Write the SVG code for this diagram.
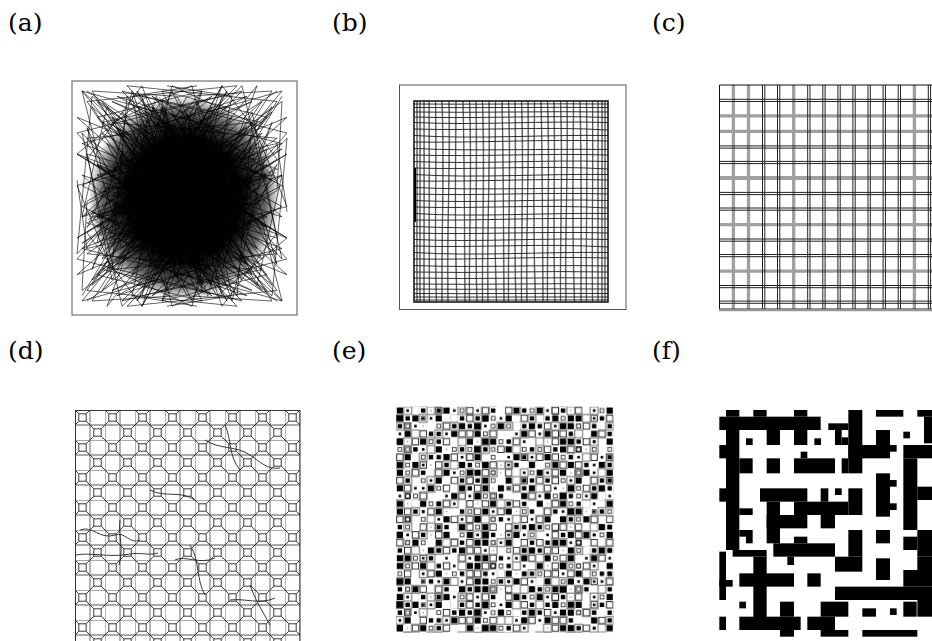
<svg xmlns="http://www.w3.org/2000/svg" xmlns:xlink="http://www.w3.org/1999/xlink" width="932" height="641" viewBox="0 0 932 641">
<style>
.lbl{font-family:"DejaVu Serif","Liberation Serif",serif;font-size:25px;fill:#000}
.frame{fill:none;stroke:#555;stroke-width:1}
.vg{fill:none;stroke:#8c8c8c;stroke-width:1.4}
.vb{fill:none;stroke:#444;stroke-width:0.7}
.hb{fill:none;stroke:#1a1a1a;stroke-width:0.9}
.cb{stroke:#222;stroke-width:1}
.cg{stroke:#a0a0a0;stroke-width:3.3}
</style>
<defs>
<radialGradient id="blob" cx="0.5" cy="0.5" r="0.5">
<stop offset="0" stop-color="#000" stop-opacity="1"/>
<stop offset="0.6" stop-color="#000" stop-opacity="0.97"/>
<stop offset="0.85" stop-color="#000" stop-opacity="0.6"/>
<stop offset="1" stop-color="#000" stop-opacity="0"/>
</radialGradient>
<polyline id="tg" points="-95,-100 30,-20 -60,40 90,-85 -10,60 70,90 -100,10 40,-60 -30,-95 100,20 -50,-30 20,100 -85,75 60,-40 -20,20 95,-55 -70,-70 10,-105 50,50 -105,-40 80,70 -40,95 0,-50 -90,-15 65,-95 -15,-70 105,60 -60,100 35,10 -80,-90 45,85 -100,50 85,-20 -25,-45 15,70 75,-70 -55,-5 55,105 -95,90 25,-80 100,-100 -35,55 70,30 -75,-50 5,95 90,100 -45,-100 30,40 -105,-75 60,-10 -5,-25 -65,65 95,-35 40,-105 -30,85 80,-60 -85,30 20,-40 50,95 -15,105"/>
<rect id="eA" x="-3.1" y="-3.1" width="6.2" height="6.2" fill="#000"/>
<rect id="eB" x="-2.2" y="-2.2" width="4.4" height="4.4" fill="#000"/>
<rect id="eC" x="-1.3" y="-1.3" width="2.6" height="2.6" fill="#000"/>
<rect id="eD" x="-3.2" y="-3.2" width="6.4" height="6.4" fill="#fff" stroke="#222" stroke-width="1"/>
<rect id="eF" x="-1.9" y="-1.9" width="3.8" height="3.8" fill="#fff" stroke="#333" stroke-width="0.9"/>
<rect id="eG" x="-0.7" y="-0.7" width="1.4" height="1.4" fill="#999"/>
<rect id="eW" x="-3.9" y="-3.9" width="7.8" height="7.8" fill="#fff"/>
<rect id="eE" x="-3.9" y="-3.9" width="7.8" height="7.8" fill="none" stroke="#8a8a8a" stroke-width="1.3"/>
<pattern id="pd" patternUnits="userSpaceOnUse" x="75" y="410" width="30" height="30">
<path d="M0 0V30M15 0V30M0 0H30M0 15H30" stroke="#8e8e8e" stroke-width="1.3" fill="none"/>
<path d="M3.8 3.8h7.4v7.4h-7.4zM18.8 18.8h7.4v7.4h-7.4zM11.2 11.2L18.8 18.8M26.2 18.8L33.8 11.2M-3.8 18.8L3.8 11.2M18.8 26.2L11.2 33.8M18.8 -3.8L11.2 3.8M26.2 26.2L33.8 33.8M-3.8 -3.8L3.8 3.8" stroke="#222" stroke-width="0.9" fill="none"/>
</pattern>
<pattern id="pex" patternUnits="userSpaceOnUse" x="396" y="406.7" width="69.93" height="62.16">
<use href="#eA" x="3.89" y="3.89"/><use href="#eC" x="11.66" y="3.89"/><use href="#eD" x="19.43" y="3.89"/><use href="#eB" x="27.2" y="3.89"/><use href="#eG" x="34.97" y="3.89"/><use href="#eD" x="42.74" y="3.89"/><use href="#eA" x="50.51" y="3.89"/><use href="#eC" x="58.28" y="3.89"/><use href="#eF" x="66.05" y="3.89"/>
<use href="#eD" x="3.89" y="11.66"/><use href="#eB" x="11.66" y="11.66"/><use href="#eA" x="19.43" y="11.66"/><use href="#eF" x="27.2" y="11.66"/><use href="#eC" x="34.97" y="11.66"/><use href="#eA" x="42.74" y="11.66"/><use href="#eD" x="58.28" y="11.66"/><use href="#eB" x="66.05" y="11.66"/>
<use href="#eB" x="3.89" y="19.43"/><use href="#eD" x="11.66" y="19.43"/><use href="#eC" x="19.43" y="19.43"/><use href="#eG" x="27.2" y="19.43"/><use href="#eA" x="34.97" y="19.43"/><use href="#eF" x="42.74" y="19.43"/><use href="#eD" x="50.51" y="19.43"/><use href="#eB" x="58.28" y="19.43"/><use href="#eA" x="66.05" y="19.43"/>
<use href="#eC" x="3.89" y="27.2"/><use href="#eA" x="11.66" y="27.2"/><use href="#eF" x="19.43" y="27.2"/><use href="#eD" x="27.2" y="27.2"/><use href="#eB" x="34.97" y="27.2"/><use href="#eC" x="50.51" y="27.2"/><use href="#eA" x="58.28" y="27.2"/><use href="#eD" x="66.05" y="27.2"/>
<use href="#eA" x="3.89" y="34.97"/><use href="#eG" x="11.66" y="34.97"/><use href="#eD" x="19.43" y="34.97"/><use href="#eA" x="27.2" y="34.97"/><use href="#eF" x="34.97" y="34.97"/><use href="#eB" x="42.74" y="34.97"/><use href="#eD" x="50.51" y="34.97"/><use href="#eC" x="58.28" y="34.97"/>
<use href="#eF" x="3.89" y="42.74"/><use href="#eD" x="11.66" y="42.74"/><use href="#eB" x="19.43" y="42.74"/><use href="#eC" x="27.2" y="42.74"/><use href="#eD" x="34.97" y="42.74"/><use href="#eA" x="42.74" y="42.74"/><use href="#eG" x="50.51" y="42.74"/><use href="#eF" x="58.28" y="42.74"/><use href="#eB" x="66.05" y="42.74"/>
<use href="#eD" x="3.89" y="50.51"/><use href="#eA" x="11.66" y="50.51"/><use href="#eF" x="27.2" y="50.51"/><use href="#eB" x="34.97" y="50.51"/><use href="#eC" x="42.74" y="50.51"/><use href="#eA" x="50.51" y="50.51"/><use href="#eD" x="58.28" y="50.51"/><use href="#eC" x="66.05" y="50.51"/>
<use href="#eB" x="3.89" y="58.28"/><use href="#eF" x="11.66" y="58.28"/><use href="#eA" x="19.43" y="58.28"/><use href="#eD" x="27.2" y="58.28"/><use href="#eG" x="34.97" y="58.28"/><use href="#eD" x="42.74" y="58.28"/><use href="#eB" x="50.51" y="58.28"/><use href="#eA" x="66.05" y="58.28"/>
</pattern>
<pattern id="pez" patternUnits="userSpaceOnUse" x="396" y="406.7" width="85.47" height="23.31">
<use href="#eW" x="19.43" y="3.89"/><use href="#eB" x="42.74" y="3.89"/><use href="#eD" x="73.82" y="3.89"/>
<use href="#eA" x="3.89" y="11.66"/><use href="#eW" x="58.28" y="11.66"/><use href="#eC" x="27.2" y="11.66"/>
<use href="#eW" x="34.97" y="19.43"/><use href="#eA" x="81.59" y="19.43"/><use href="#eF" x="11.66" y="19.43"/>
</pattern>
<pattern id="pey" patternUnits="userSpaceOnUse" x="396" y="406.7" width="54.39" height="38.85">
<use href="#eE" x="11.66" y="3.89"/><use href="#eE" x="34.97" y="3.89"/><use href="#eE" x="27.2" y="11.66"/><use href="#eE" x="50.51" y="19.43"/><use href="#eE" x="3.89" y="19.43"/><use href="#eE" x="19.43" y="27.2"/><use href="#eE" x="42.74" y="27.2"/><use href="#eE" x="11.66" y="34.97"/><use href="#eE" x="34.97" y="34.97"/>
</pattern>
</defs>
<rect width="932" height="641" fill="#fff"/>

<g id="labels">
<text class="lbl" x="8" y="31">(a)</text>
<text class="lbl" x="332" y="31">(b)</text>
<text class="lbl" x="652" y="31">(c)</text>
<text class="lbl" x="8" y="359">(d)</text>
<text class="lbl" x="332" y="359">(e)</text>
<text class="lbl" x="652" y="359">(f)</text>
</g>

<g id="panel-a">
<rect class="frame" x="72" y="81" width="225" height="234"/>
<ellipse cx="184" cy="198" rx="96" ry="102" fill="url(#blob)"/>
<g transform="translate(182,196) scale(1,1.05)" fill="none" stroke="#000" stroke-width="0.6">
<use href="#tg"/>
<use href="#tg" transform="rotate(90)"/>
<use href="#tg" transform="rotate(180)"/>
<use href="#tg" transform="rotate(270)"/>
<use href="#tg" transform="scale(-1,1)"/>
<use href="#tg" transform="scale(1,-1)"/>
<use href="#tg" transform="rotate(30) scale(0.7)"/>
<use href="#tg" transform="rotate(120) scale(0.7)"/>
<use href="#tg" transform="rotate(210) scale(0.7)"/>
<use href="#tg" transform="rotate(300) scale(0.7)"/>
</g>
</g>

<g id="panel-b">
<rect class="frame" x="399.5" y="85" width="226.5" height="224.5" stroke="#777"/>
<g>
<path class="vg" d="M417 101C417.5 168 416.5 235 417 302"/>
<path class="vg" d="M420 101C420.5 168 419.5 235 420 302"/>
<path class="vg" d="M424 101C424.5 168 423.5 235 424 302"/>
<path class="vg" d="M429 101C430 168 428.5 235 429.5 302"/>
<path class="vg" d="M435.5 101C437.5 168 433.5 235 436.5 302"/>
<path class="vg" d="M442 101C445 168 441 235 442 302"/>
<path class="vg" d="M449 101C451 168 446 235 448 302"/>
<path class="vg" d="M456 101C456 168 454 235 457 302"/>
<path class="vg" d="M463 101C465 168 464 235 465 302"/>
<path class="vg" d="M469.5 101C472.5 168 468.5 235 469.5 302"/>
<path class="vg" d="M476 101C478 168 474 235 477 302"/>
<path class="vg" d="M482.5 101C485.5 168 481.5 235 482.5 302"/>
<path class="vg" d="M489 101C491 168 486 235 488 302"/>
<path class="vg" d="M495.5 101C495.5 168 493.5 235 496.5 302"/>
<path class="vg" d="M502 101C504 168 503 235 504 302"/>
<path class="vg" d="M508.5 101C511.5 168 507.5 235 508.5 302"/>
<path class="vg" d="M515 101C517 168 513 235 516 302"/>
<path class="vg" d="M521.5 101C524.5 168 520.5 235 521.5 302"/>
<path class="vg" d="M528 101C530 168 525 235 527 302"/>
<path class="vg" d="M534.5 101C534.5 168 532.5 235 535.5 302"/>
<path class="vg" d="M541 101C543 168 542 235 543 302"/>
<path class="vg" d="M547.5 101C550.5 168 546.5 235 547.5 302"/>
<path class="vg" d="M554 101C556 168 552 235 555 302"/>
<path class="vg" d="M560.5 101C563.5 168 559.5 235 560.5 302"/>
<path class="vg" d="M567 101C569 168 564 235 566 302"/>
<path class="vg" d="M573.5 101C573.5 168 571.5 235 574.5 302"/>
<path class="vg" d="M580 101C582 168 581 235 581 302"/>
<path class="vg" d="M586.5 101C588 168 585.5 235 586.5 302"/>
<path class="vg" d="M592.5 101C593.5 168 591.5 235 592.5 302"/>
<path class="vg" d="M598 101C598.5 168 597.5 235 598 302"/>
<path class="vg" d="M602 101C602.5 168 601.5 235 602 302"/>
<path class="vg" d="M605 101C605.3 168 604.7 235 605 302"/>
</g>
<g>
<path class="vb" d="M417 101C417 168 417 235 417 302"/>
<path class="vb" d="M420 101C420 168 420 235 420 302"/>
<path class="vb" d="M424 101C424 168 424.5 235 424 302"/>
<path class="vb" d="M429 101C429 168 429.5 235 429.5 302"/>
<path class="vb" d="M435.5 101C436.5 168 434.5 235 436.5 302"/>
<path class="vb" d="M442 101C444 168 442 235 442 302"/>
<path class="vb" d="M449 101C450 168 447 235 448 302"/>
<path class="vb" d="M456 101C455 168 455 235 457 302"/>
<path class="vb" d="M463 101C464 168 465 235 465 302"/>
<path class="vb" d="M469.5 101C471.5 168 469.5 235 469.5 302"/>
<path class="vb" d="M476 101C477 168 475 235 477 302"/>
<path class="vb" d="M482.5 101C484.5 168 482.5 235 482.5 302"/>
<path class="vb" d="M489 101C490 168 487 235 488 302"/>
<path class="vb" d="M495.5 101C494.5 168 494.5 235 496.5 302"/>
<path class="vb" d="M502 101C503 168 504 235 504 302"/>
<path class="vb" d="M508.5 101C510.5 168 508.5 235 508.5 302"/>
<path class="vb" d="M515 101C516 168 514 235 516 302"/>
<path class="vb" d="M521.5 101C523.5 168 521.5 235 521.5 302"/>
<path class="vb" d="M528 101C529 168 526 235 527 302"/>
<path class="vb" d="M534.5 101C533.5 168 533.5 235 535.5 302"/>
<path class="vb" d="M541 101C542 168 543 235 543 302"/>
<path class="vb" d="M547.5 101C549.5 168 547.5 235 547.5 302"/>
<path class="vb" d="M554 101C555 168 553 235 555 302"/>
<path class="vb" d="M560.5 101C562.5 168 560.5 235 560.5 302"/>
<path class="vb" d="M567 101C568 168 565 235 566 302"/>
<path class="vb" d="M573.5 101C572.5 168 572.5 235 574.5 302"/>
<path class="vb" d="M580 101C581 168 581.5 235 581 302"/>
<path class="vb" d="M586.5 101C587.5 168 586 235 586.5 302"/>
<path class="vb" d="M592.5 101C593 168 592 235 592.5 302"/>
<path class="vb" d="M598 101C598 168 598 235 598 302"/>
<path class="vb" d="M602 101C602 168 602 235 602 302"/>
<path class="vb" d="M605 101C605 168 605 235 605 302"/>
</g>
<g>
<path class="hb" d="M414 104C478 104.5 544 103.5 608 104"/>
<path class="hb" d="M414 107.5C478 108 544 107 608 107.5"/>
<path class="hb" d="M414 112C478 113 544 111 608 112"/>
<path class="hb" d="M414 117C478 119 544 115 608 117.5"/>
<path class="hb" d="M414 122.5C478 125.5 544 120.5 608 122.5"/>
<path class="hb" d="M414 129C478 131 544 126 608 130"/>
<path class="hb" d="M414 135.5C478 139.5 544 134.5 608 135.5"/>
<path class="hb" d="M414 142C478 143 544 139 608 141"/>
<path class="hb" d="M414 148.5C478 151.5 544 148.5 608 149.5"/>
<path class="hb" d="M414 155C478 157 544 153 608 155"/>
<path class="hb" d="M414 161.5C478 164.5 544 159.5 608 161.5"/>
<path class="hb" d="M414 168C478 170 544 165 608 169"/>
<path class="hb" d="M414 174.5C478 178.5 544 173.5 608 174.5"/>
<path class="hb" d="M414 181C478 182 544 178 608 180"/>
<path class="hb" d="M414 187.5C478 190.5 544 187.5 608 188.5"/>
<path class="hb" d="M414 194C478 196 544 192 608 194"/>
<path class="hb" d="M414 200.5C478 203.5 544 198.5 608 200.5"/>
<path class="hb" d="M414 207C478 209 544 204 608 208"/>
<path class="hb" d="M414 213.5C478 217.5 544 212.5 608 213.5"/>
<path class="hb" d="M414 220C478 221 544 217 608 219"/>
<path class="hb" d="M414 226.5C478 229.5 544 226.5 608 227.5"/>
<path class="hb" d="M414 233C478 235 544 231 608 233"/>
<path class="hb" d="M414 239.5C478 242.5 544 237.5 608 239.5"/>
<path class="hb" d="M414 246C478 248 544 243 608 247"/>
<path class="hb" d="M414 252.5C478 256.5 544 251.5 608 252.5"/>
<path class="hb" d="M414 259C478 260 544 256 608 258"/>
<path class="hb" d="M414 265.5C478 268 544 264.5 608 266"/>
<path class="hb" d="M414 272C478 273.5 544 270.5 608 272"/>
<path class="hb" d="M414 278C478 279.5 544 277 608 278"/>
<path class="hb" d="M414 284C478 285 544 283 608 284"/>
<path class="hb" d="M414 289C478 289.8 544 288.4 608 289"/>
<path class="hb" d="M414 293.5C478 294 544 293 608 293.5"/>
<path class="hb" d="M414 297C478 297.3 544 296.8 608 297"/>
<path class="hb" d="M414 300C478 300.2 544 299.8 608 300"/>
</g>
<rect x="414" y="101" width="194" height="201" fill="none" stroke="#1a1a1a" stroke-width="1.6"/>
<line x1="415" y1="168" x2="415" y2="222" stroke="#000" stroke-width="2"/>
</g>

<g id="panel-c">
<g class="cg">
<line x1="733.4" y1="85" x2="733.4" y2="309"/>
<line x1="748.5" y1="85" x2="748.5" y2="309"/>
<line x1="793.7" y1="85" x2="793.7" y2="309"/>
<line x1="914.4" y1="85" x2="914.4" y2="309"/>
<line x1="719" y1="115.9" x2="932" y2="115.9"/>
<line x1="719" y1="131.4" x2="932" y2="131.4"/>
<line x1="719" y1="178" x2="932" y2="178" stroke-width="4"/>
<line x1="719" y1="224.6" x2="932" y2="224.6"/>
<line x1="719" y1="271.1" x2="932" y2="271.1"/>
</g>
<g class="cb">
<line x1="762.5" y1="85" x2="762.5" y2="309"/><line x1="764.8" y1="85" x2="764.8" y2="309"/>
<line x1="777.5" y1="85" x2="777.5" y2="309"/><line x1="779.8" y1="85" x2="779.8" y2="309"/>
<line x1="807.7" y1="85" x2="807.7" y2="309"/><line x1="810" y1="85" x2="810" y2="309"/>
<line x1="822.8" y1="85" x2="822.8" y2="309"/><line x1="825.1" y1="85" x2="825.1" y2="309"/>
<line x1="837.9" y1="85" x2="837.9" y2="309"/><line x1="840.2" y1="85" x2="840.2" y2="309"/>
<line x1="852.9" y1="85" x2="852.9" y2="309"/><line x1="855.2" y1="85" x2="855.2" y2="309"/>
<line x1="868" y1="85" x2="868" y2="309"/><line x1="870.3" y1="85" x2="870.3" y2="309"/>
<line x1="883.1" y1="85" x2="883.1" y2="309"/><line x1="885.4" y1="85" x2="885.4" y2="309"/>
<line x1="898.2" y1="85" x2="898.2" y2="309"/><line x1="900.5" y1="85" x2="900.5" y2="309"/>
<line x1="928.3" y1="85" x2="928.3" y2="309"/><line x1="930.6" y1="85" x2="930.6" y2="309"/>
<line x1="719" y1="99.3" x2="932" y2="99.3"/><line x1="719" y1="101.5" x2="932" y2="101.5"/>
<line x1="719" y1="145.9" x2="932" y2="145.9"/><line x1="719" y1="148.1" x2="932" y2="148.1"/>
<line x1="719" y1="161.4" x2="932" y2="161.4"/><line x1="719" y1="163.6" x2="932" y2="163.6"/>
<line x1="719" y1="192.4" x2="932" y2="192.4"/><line x1="719" y1="194.6" x2="932" y2="194.6"/>
<line x1="719" y1="208" x2="932" y2="208"/><line x1="719" y1="210.2" x2="932" y2="210.2"/>
<line x1="719" y1="239" x2="932" y2="239"/><line x1="719" y1="241.2" x2="932" y2="241.2"/>
<line x1="719" y1="254.5" x2="932" y2="254.5"/><line x1="719" y1="256.7" x2="932" y2="256.7"/>
<line x1="719" y1="285.5" x2="932" y2="285.5"/><line x1="719" y1="287.7" x2="932" y2="287.7"/>
<line x1="719" y1="301.1" x2="932" y2="301.1"/><line x1="719" y1="303.3" x2="932" y2="303.3"/>
</g>
<path d="M932 85H719.5V309" fill="none" stroke="#111" stroke-width="1"/>
<line x1="719" y1="309" x2="932" y2="309" stroke="#222" stroke-width="1"/>
<line x1="719" y1="310.6" x2="932" y2="310.6" stroke="#999" stroke-width="1.4"/>
</g>

<g id="panel-d">
<rect x="75" y="410" width="225" height="240" fill="url(#pd)"/>
<g fill="none" stroke="#222" stroke-width="0.9">
<path d="M76 555C90 552 110 558 130 554C140 552 150 556 158 553"/>
<path d="M80 530C92 525 100 540 115 535C125 531 130 545 140 540"/>
<path d="M120 520C118 535 124 548 119 565"/>
<path d="M190 545C200 560 196 580 205 595"/>
<path d="M175 560C185 555 200 565 215 558"/>
<path d="M205 440C220 450 235 445 250 455C260 462 268 470 280 468"/>
<path d="M225 425C232 440 228 455 240 470"/>
<path d="M230 600C245 598 260 605 275 598"/>
<path d="M250 585C255 600 262 610 270 625"/>
<path d="M150 490C165 498 180 490 195 500"/>
</g>
<rect x="75.5" y="410.5" width="224.5" height="240" fill="none" stroke="#333" stroke-width="1"/>
</g>

<g id="panel-e">
<rect x="396" y="406.7" width="217.6" height="226" fill="url(#pex)"/>
<rect x="396" y="406.7" width="217.6" height="226" fill="url(#pez)"/>
<rect x="396" y="406.7" width="217.6" height="226" fill="url(#pey)"/>
</g>

<g id="panel-f" transform="translate(700,390) scale(0.33333)" fill="#000">
<rect x="78" y="60" width="40" height="20"/><rect x="160" y="60" width="40" height="20"/><rect x="282" y="60" width="40" height="20"/>
<rect x="445" y="60" width="42" height="60"/><rect x="528" y="60" width="82" height="20"/><rect x="652" y="60" width="44" height="20"/>
<rect x="58" y="80" width="304" height="40"/><rect x="385" y="100" width="60" height="20"/><rect x="672" y="80" width="24" height="80"/>
<rect x="78" y="120" width="40" height="360"/><rect x="58" y="165" width="20" height="40"/><rect x="118" y="205" width="40" height="45"/>
<rect x="200" y="120" width="40" height="45"/><rect x="282" y="120" width="40" height="45"/>
<rect x="138" y="145" width="20" height="20"/><rect x="343" y="145" width="20" height="20"/>
<rect x="405" y="120" width="20" height="45"/><rect x="445" y="120" width="42" height="130"/><rect x="425" y="142" width="20" height="23"/>
<rect x="528" y="120" width="42" height="45"/><rect x="445" y="165" width="125" height="40"/><rect x="570" y="165" width="20" height="20"/>
<rect x="610" y="125" width="20" height="20"/><rect x="610" y="165" width="86" height="40"/>
<rect x="302" y="185" width="20" height="20"/><rect x="282" y="205" width="123" height="45"/><rect x="200" y="205" width="40" height="45"/>
<rect x="425" y="205" width="20" height="45"/><rect x="610" y="205" width="42" height="215"/>
<rect x="58" y="295" width="20" height="40"/>
<rect x="528" y="250" width="42" height="130"/><rect x="570" y="270" width="20" height="20"/><rect x="570" y="340" width="20" height="20"/>
<rect x="180" y="295" width="142" height="40"/><rect x="362" y="295" width="23" height="40"/><rect x="405" y="295" width="20" height="20"/>
<rect x="445" y="295" width="42" height="80"/>
<rect x="200" y="335" width="40" height="125"/><rect x="282" y="335" width="163" height="40"/>
<rect x="200" y="375" width="122" height="40"/><rect x="362" y="375" width="43" height="40"/>
<rect x="118" y="355" width="40" height="20"/><rect x="652" y="290" width="44" height="40"/>
<rect x="138" y="420" width="20" height="40"/><rect x="118" y="420" width="20" height="20"/>
<rect x="445" y="420" width="42" height="80"/><rect x="528" y="420" width="42" height="40"/>
<rect x="98" y="480" width="102" height="20"/><rect x="220" y="460" width="185" height="40"/><rect x="282" y="440" width="40" height="20"/>
<rect x="652" y="420" width="44" height="80"/><rect x="610" y="440" width="42" height="40"/>
<rect x="58" y="485" width="20" height="145"/><rect x="160" y="500" width="40" height="200"/><rect x="262" y="500" width="20" height="25"/>
<rect x="405" y="500" width="82" height="45"/><rect x="528" y="505" width="42" height="65"/><rect x="652" y="500" width="44" height="40"/>
<rect x="118" y="550" width="164" height="40"/><rect x="322" y="550" width="40" height="40"/><rect x="58" y="570" width="40" height="20"/>
<rect x="610" y="540" width="86" height="50"/><rect x="405" y="590" width="291" height="40"/>
<rect x="118" y="635" width="20" height="20"/><rect x="240" y="635" width="42" height="45"/><rect x="362" y="635" width="83" height="45"/>
<rect x="487" y="655" width="41" height="25"/><rect x="570" y="655" width="20" height="20"/><rect x="610" y="635" width="40" height="45"/><rect x="652" y="630" width="44" height="50"/>
<rect x="58" y="680" width="20" height="40"/><rect x="118" y="680" width="184" height="40"/><rect x="322" y="680" width="83" height="40"/>
<rect x="240" y="720" width="42" height="20"/><rect x="362" y="720" width="83" height="20"/><rect x="487" y="720" width="165" height="20"/>
</g>
</svg>
